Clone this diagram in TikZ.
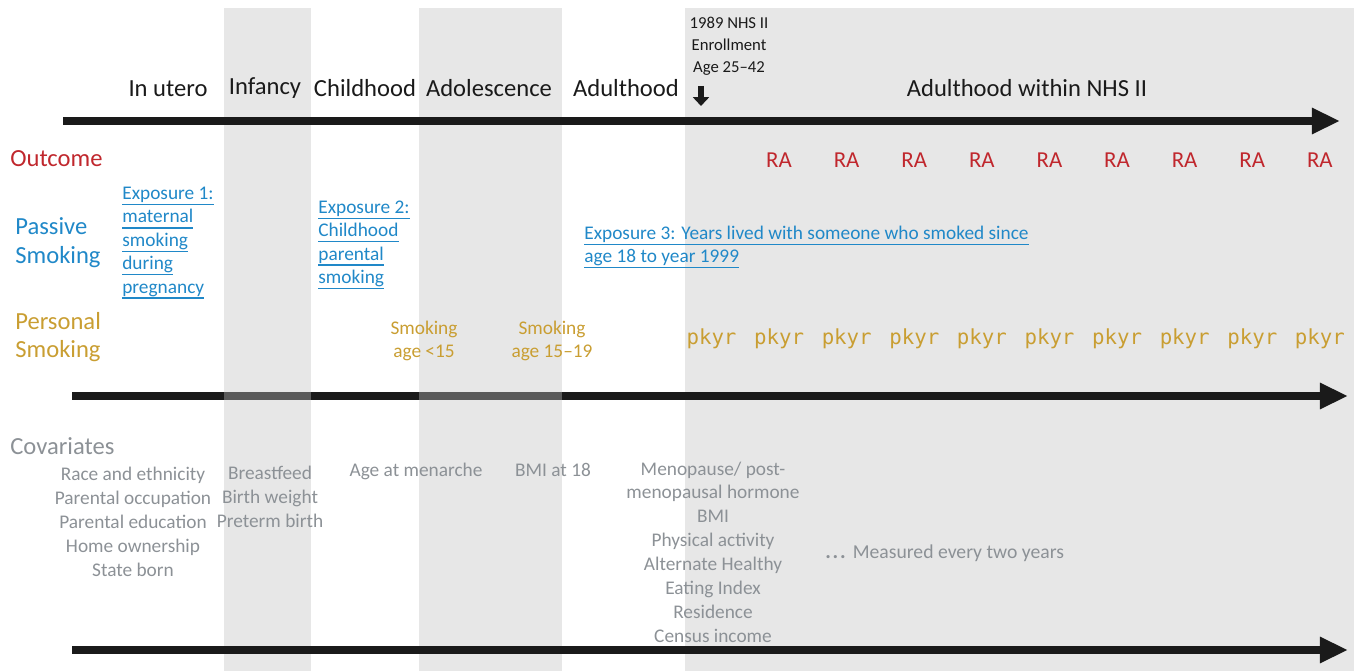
\documentclass[tikz,border=0pt]{standalone}
\usepackage{fontspec}
\setmainfont{Carlito}
\newfontfamily\pkfont{DejaVu Sans Mono}
\usetikzlibrary{arrows.meta}
\definecolor{ink}{HTML}{1A1A1A}
\definecolor{bandgray}{HTML}{E7E7E7}
\definecolor{seggray}{HTML}{5A5A5A}
\definecolor{outred}{HTML}{C0272D}
\definecolor{pasblue}{HTML}{2088C8}
\definecolor{smkgold}{HTML}{C99E32}
\definecolor{covgray}{HTML}{8C9196}
\newcommand{\ulx}[1]{\setbox0\hbox{#1}\rlap{\rule[-3.3pt]{\wd0}{0.8pt}}\box0}

\begin{document}
\begin{tikzpicture}[x=0.02cm,y=-0.02cm,
  tline/.style={line width=5pt,draw=ink,-{Triangle[length=16pt,width=14pt]}},
  stage/.style={font=\fontsize{14}{16}\selectfont,text=ink,anchor=base,inner sep=0pt},
  rowlab/.style={font=\fontsize{14}{16.4}\selectfont,align=left,anchor=west,inner sep=0pt},
  expo/.style={font=\fontsize{11}{13.3}\selectfont,text=pasblue,align=left,anchor=west,inner sep=0pt},
  smk/.style={font=\fontsize{11}{13.6}\selectfont,text=smkgold,align=center,inner sep=0pt},
  cov/.style={font=\fontsize{11}{13.6}\selectfont,text=covgray,align=center,inner sep=0pt}]
\useasboundingbox (0,0) rectangle (1358,671);
% life stage bands
\fill[bandgray] (224,8) rectangle (311,671);
\fill[bandgray] (419,8) rectangle (562,671);
\fill[bandgray] (685,8) rectangle (1354,671);

% time lines
\coordinate (top0) at (63,121);  \coordinate (top1) at (1340,121);
\coordinate (mid0) at (72,396);  \coordinate (mid1) at (1348,396);
\coordinate (bot0) at (72,650);  \coordinate (bot1) at (1348,650);
\draw[tline] (top0) -- (top1);
\draw[tline] (mid0) -- (mid1);
\fill[seggray] (224,392) rectangle (311,400);
\fill[seggray] (419,392) rectangle (562,400);
\draw[tline] (bot0) -- (bot1);

% stages
\node[stage] (utero) at (168,97) {In utero};
\node[stage] (infancy) at (265,95) {Infancy};
\node[stage] (child) at (365,97) {Childhood};
\node[stage] (adol) at (489,97) {Adolescence};
\node[stage] (adult) at (626,97) {Adulthood};
\node[stage] (nhsadult) at (1027,97) {Adulthood within NHS II};
\node[font=\fontsize{9.5}{12.6}\selectfont,text=ink,align=center,inner sep=0pt] (enroll) at (729,46)
  {1989 NHS II\\Enrollment\\Age 25--42};
\coordinate (enr0) at (701,86); \coordinate (enr1) at (701,106);
\draw[ink,line width=3.4pt,-{Triangle[length=5pt,width=9pt]}] (enr0) -- (enr1);

% rows
\node[rowlab,text=outred] (outc) at (10,159) {Outcome};
\node[rowlab,text=pasblue] (pass) at (15,243) {Passive\\Smoking};
\node[rowlab,text=smkgold] (pers) at (15,337) {Personal\\Smoking};
\node[rowlab,text=covgray] (covs) at (10,446) {Covariates};

\foreach \i in {0,...,8}
  \node[font=\fontsize{13}{15}\selectfont,text=outred,anchor=base,inner sep=0pt] (ra\i) at ({779+67.6*\i},168) {RA};
\foreach \i in {0,...,9}
  \node[font=\pkfont\fontsize{11.8}{14}\selectfont,text=smkgold,anchor=base,inner sep=0pt] (pk\i) at ({711.5+67.6*\i},345) {pkyr};

% exposures
\node[expo] (exp1) at (122,243) {\ulx{Exposure 1:}\\\ulx{maternal}\\\ulx{smoking}\\\ulx{during}\\\ulx{pregnancy}};
\node[expo] (exp2) at (318,245) {\ulx{Exposure 2:}\\\ulx{Childhood}\\\ulx{parental}\\\ulx{smoking}};
\node[expo] (exp3) at (584,247) {\ulx{Exposure 3: Years lived with someone who smoked since}\\\ulx{age 18 to year 1999}};

\node[smk] (smk15) at (424,341) {Smoking\\age {<}15};
\node[smk] (smk19) at (552,341) {Smoking\\age 15--19};

% covariates
\node[cov] (cov1) at (133,522) {Race and ethnicity\\Parental occupation\\Parental education\\Home ownership\\State born};
\node[cov] (cov2) at (270,497) {Breastfeed\\Birth weight\\Preterm birth};
\node[cov,anchor=base] (cov3) at (416,477) {Age at menarche};
\node[cov,anchor=base] (cov4) at (553,477) {BMI at 18};
\node[cov] (cov5) at (713,552) {Menopause/ post-\\menopausal hormone\\BMI\\Physical activity\\Alternate Healthy\\Eating Index\\Residence\\Census income};
\node[cov,anchor=base west,font=\fontsize{11.2}{14}\selectfont] (every) at (825,559) {{\bfseries\large .\kern1pt.\kern1pt.}\hspace{4pt}Measured every two years};
\end{tikzpicture}
\end{document}
